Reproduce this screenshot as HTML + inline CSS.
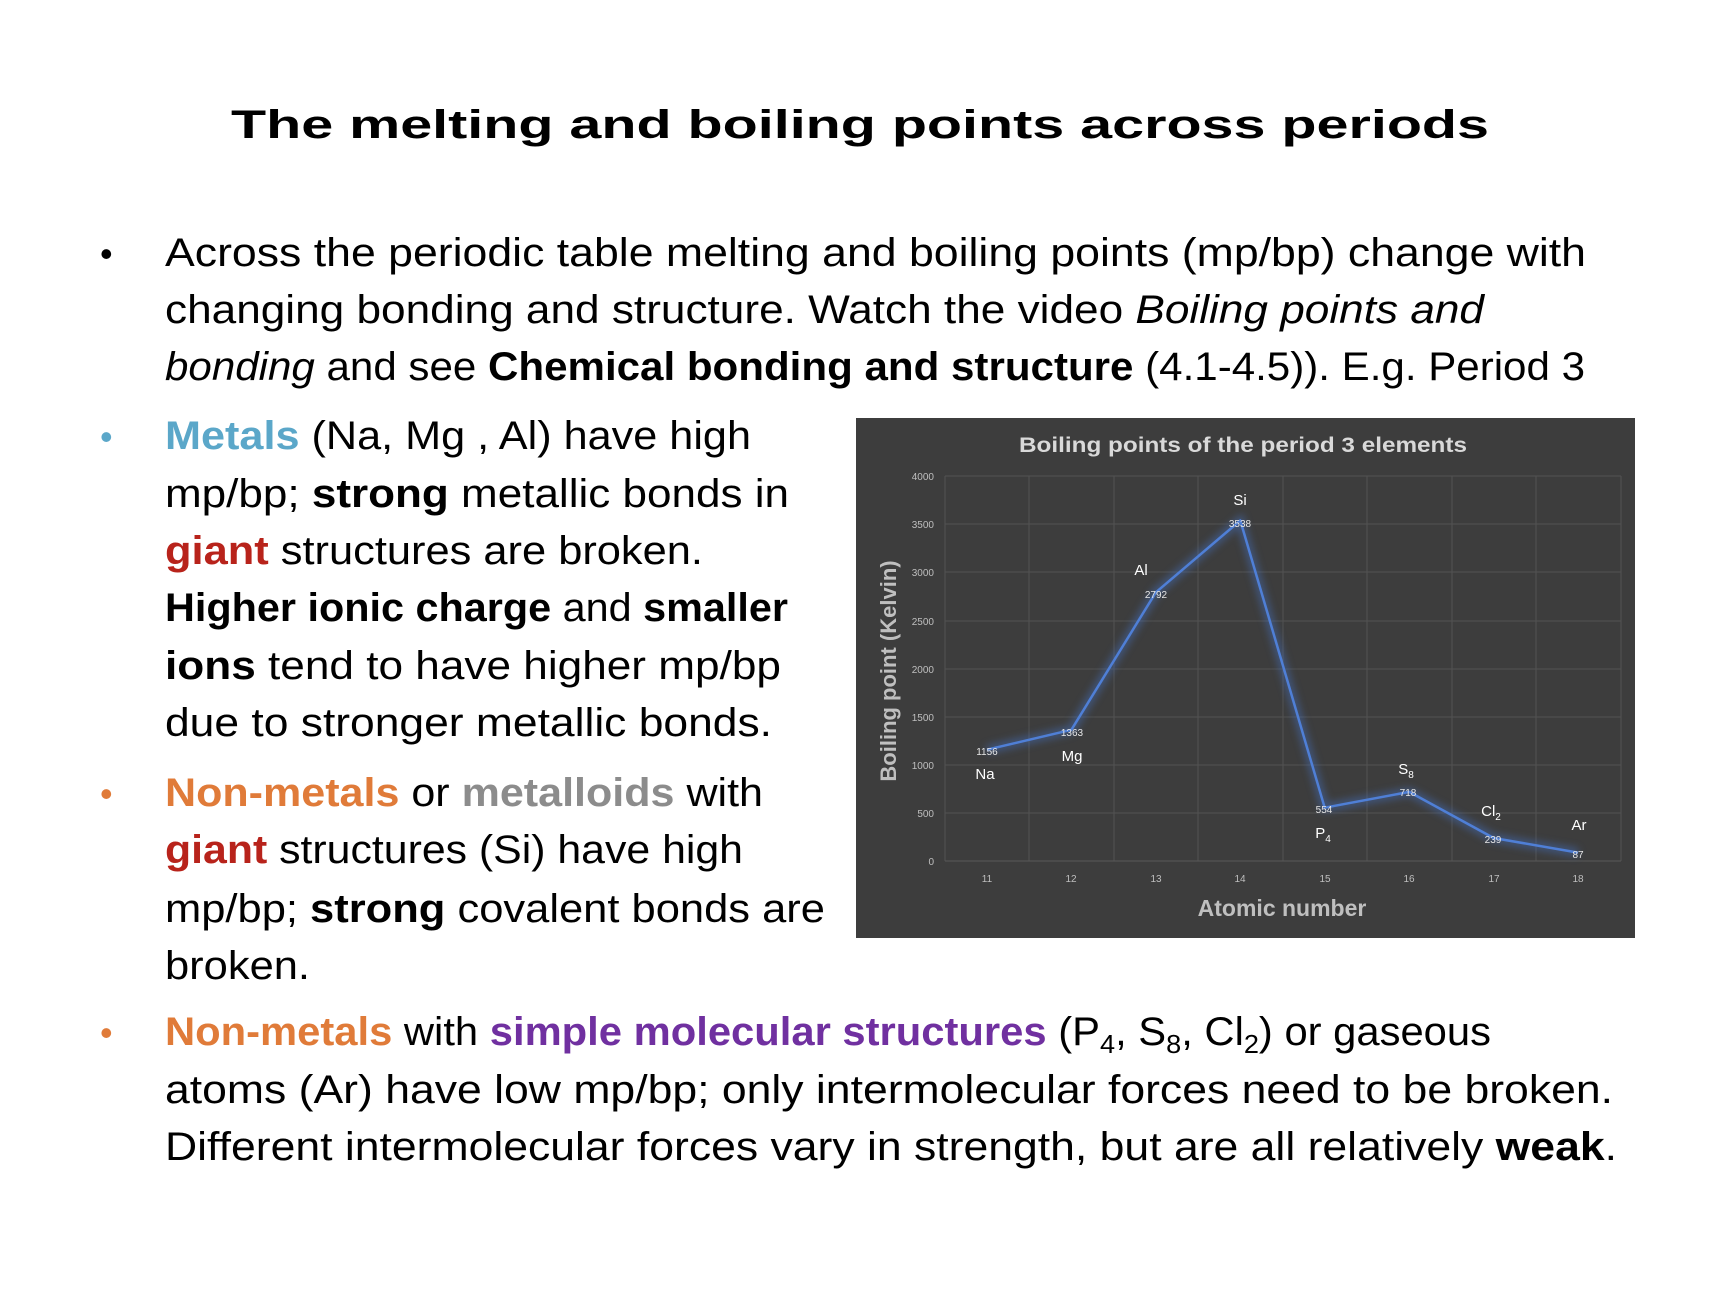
<!DOCTYPE html>
<html><head><meta charset="utf-8"><style>
html,body{margin:0;padding:0;background:#fff;width:1716px;height:1290px;overflow:hidden}
svg{display:block}
.t{font-family:"Liberation Sans",sans-serif;font-size:40px;fill:#000}
.b{font-weight:bold}
.i{font-style:italic}
</style></head><body>
<svg width="1716" height="1290" viewBox="0 0 1716 1290" xmlns="http://www.w3.org/2000/svg">
<defs><filter id="glow" x="-10%" y="-10%" width="120%" height="120%"><feGaussianBlur stdDeviation="4"/></filter></defs>
<text class="t b" x="231" y="138" font-size="56" textLength="1258" lengthAdjust="spacingAndGlyphs">The melting and boiling points across periods</text>

<g class="t">
<text x="100" y="266" font-size="36">•</text>
<text x="165" y="266" textLength="1421" lengthAdjust="spacingAndGlyphs">Across the periodic table melting and boiling points (mp/bp) change with</text>
<text x="165" y="323" textLength="1319" lengthAdjust="spacingAndGlyphs">changing bonding and structure. Watch the video <tspan class="i">Boiling points and</tspan></text>
<text x="165" y="380" textLength="1420" lengthAdjust="spacingAndGlyphs"><tspan class="i">bonding</tspan> and see <tspan class="b">Chemical bonding and structure</tspan> (4.1-4.5)). E.g. Period 3</text>

<text x="100" y="449" font-size="36" fill="#5ba7c9">•</text>
<text x="165" y="449" textLength="586" lengthAdjust="spacingAndGlyphs"><tspan class="b" fill="#5ba7c9">Metals</tspan> (Na, Mg , Al) have high</text>
<text x="165" y="507" textLength="624" lengthAdjust="spacingAndGlyphs">mp/bp; <tspan class="b">strong</tspan> metallic bonds in</text>
<text x="165" y="564" textLength="538" lengthAdjust="spacingAndGlyphs"><tspan class="b" fill="#b8231b">giant</tspan> structures are broken.</text>
<text x="165" y="621" textLength="623" lengthAdjust="spacingAndGlyphs"><tspan class="b">Higher ionic charge</tspan> and <tspan class="b">smaller</tspan></text>
<text x="165" y="679" textLength="616" lengthAdjust="spacingAndGlyphs"><tspan class="b">ions</tspan> tend to have higher mp/bp</text>
<text x="165" y="736" textLength="607" lengthAdjust="spacingAndGlyphs">due to stronger metallic bonds.</text>

<text x="100" y="806" font-size="36" fill="#e07b39">•</text>
<text x="165" y="806" textLength="598" lengthAdjust="spacingAndGlyphs"><tspan class="b" fill="#e07b39">Non-metals</tspan> or <tspan class="b" fill="#8c8c8c">metalloids</tspan> with</text>
<text x="165" y="863" textLength="578" lengthAdjust="spacingAndGlyphs"><tspan class="b" fill="#b8231b">giant</tspan> structures (Si) have high</text>
<text x="165" y="922" textLength="660" lengthAdjust="spacingAndGlyphs">mp/bp; <tspan class="b">strong</tspan> covalent bonds are</text>
<text x="165" y="979" textLength="145" lengthAdjust="spacingAndGlyphs">broken.</text>

<text x="100" y="1045" font-size="36" fill="#e07b39">•</text>
<text x="165" y="1045" textLength="1326" lengthAdjust="spacingAndGlyphs"><tspan class="b" fill="#e07b39">Non-metals</tspan> with <tspan class="b" fill="#7030a0">simple molecular structures</tspan> (P<tspan font-size="26" dy="8">4</tspan><tspan dy="-8">, S</tspan><tspan font-size="26" dy="8">8</tspan><tspan dy="-8">, Cl</tspan><tspan font-size="26" dy="8">2</tspan><tspan dy="-8">) or gaseous</tspan></text>
<text x="165" y="1103" textLength="1448" lengthAdjust="spacingAndGlyphs">atoms (Ar) have low mp/bp; only intermolecular forces need to be broken.</text>
<text x="165" y="1160" textLength="1452" lengthAdjust="spacingAndGlyphs">Different intermolecular forces vary in strength, but are all relatively <tspan class="b">weak</tspan>.</text>
</g>

<g transform="translate(-4,-2)">
<rect x="860" y="420" width="779" height="520" fill="#3d3d3d"/>
<g stroke="#525252" stroke-width="1">
<line x1="949" y1="478" x2="1625" y2="478"/><line x1="949" y1="526" x2="1625" y2="526"/>
<line x1="949" y1="574" x2="1625" y2="574"/><line x1="949" y1="623" x2="1625" y2="623"/>
<line x1="949" y1="671" x2="1625" y2="671"/><line x1="949" y1="719" x2="1625" y2="719"/>
<line x1="949" y1="767" x2="1625" y2="767"/><line x1="949" y1="815" x2="1625" y2="815"/>
<line x1="949" y1="478" x2="949" y2="863"/><line x1="1033" y1="478" x2="1033" y2="863"/>
<line x1="1118" y1="478" x2="1118" y2="863"/><line x1="1202" y1="478" x2="1202" y2="863"/>
<line x1="1287" y1="478" x2="1287" y2="863"/><line x1="1371" y1="478" x2="1371" y2="863"/>
<line x1="1456" y1="478" x2="1456" y2="863"/><line x1="1540" y1="478" x2="1540" y2="863"/>
<line x1="1625" y1="478" x2="1625" y2="863"/>
</g>
<line x1="949" y1="863" x2="1625" y2="863" stroke="#595959"/>
<polyline points="991,751.7 1075.4,731.8 1159.9,594.3 1244.3,522.5 1328.7,809.7 1413.2,793.9 1497.6,840 1582,854.6" fill="none" stroke="#4472c4" stroke-width="8" opacity="0.5" filter="url(#glow)"/>
<polyline points="991,751.7 1075.4,731.8 1159.9,594.3 1244.3,522.5 1328.7,809.7 1413.2,793.9 1497.6,840 1582,854.6" fill="none" stroke="#4f7fd6" stroke-width="2.5" stroke-linejoin="round"/>
<g font-family="Liberation Sans,sans-serif" fill="#d9d9d9">
<text x="1247" y="454" font-size="21" font-weight="bold" text-anchor="middle" textLength="448" lengthAdjust="spacingAndGlyphs">Boiling points of the period 3 elements</text>
<text x="1286" y="918" font-size="23" font-weight="bold" text-anchor="middle" fill="#bfbfbf">Atomic number</text>
<text transform="translate(900,673) rotate(-90)" font-size="22" font-weight="bold" text-anchor="middle" fill="#bfbfbf">Boiling point (Kelvin)</text>
<g font-size="10" text-anchor="end" fill="#bfbfbf">
<text x="938" y="482">4000</text><text x="938" y="530">3500</text><text x="938" y="578">3000</text>
<text x="938" y="627">2500</text><text x="938" y="675">2000</text><text x="938" y="723">1500</text>
<text x="938" y="771">1000</text><text x="938" y="819">500</text><text x="938" y="867">0</text>
</g>
<g font-size="10" text-anchor="middle" fill="#bfbfbf">
<text x="991" y="884">11</text><text x="1075" y="884">12</text><text x="1160" y="884">13</text><text x="1244" y="884">14</text>
<text x="1329" y="884">15</text><text x="1413" y="884">16</text><text x="1498" y="884">17</text><text x="1582" y="884">18</text>
</g>
<g font-size="10" text-anchor="middle" fill="#e6e6e6">
<text x="991" y="757">1156</text><text x="1076" y="738">1363</text><text x="1160" y="600">2792</text><text x="1244" y="529">3538</text>
<text x="1328" y="815">554</text><text x="1412" y="798">718</text><text x="1497" y="845">239</text><text x="1582" y="860">87</text>
</g>
<g font-size="15" text-anchor="middle" fill="#ffffff">
<text x="989" y="781">Na</text><text x="1076" y="763">Mg</text><text x="1145" y="577">Al</text><text x="1244" y="507">Si</text>
<text x="1327" y="840">P<tspan font-size="10" dy="4">4</tspan></text>
<text x="1410" y="776">S<tspan font-size="10" dy="4">8</tspan></text>
<text x="1495" y="818">Cl<tspan font-size="10" dy="4">2</tspan></text>
<text x="1583" y="832">Ar</text>
</g>
</g>
</g>
</svg>
</body></html>
